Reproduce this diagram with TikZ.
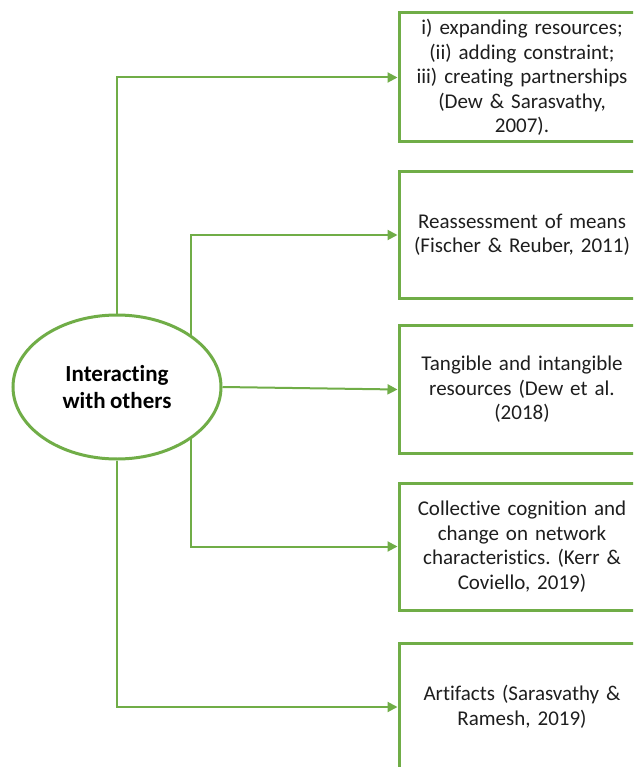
\documentclass[tikz,border=0pt]{standalone}
\usepackage{fontspec}
\setmainfont{Carlito}[Ligatures=NoCommon,WordSpace=0.85]
\usetikzlibrary{arrows.meta,shapes.geometric}
\definecolor{offgreen}{HTML}{70AD47}
\definecolor{txt}{HTML}{1E1E1E}
\frenchspacing
\begin{document}
\begin{tikzpicture}[x=1pt,y=1pt,
  box/.style={draw=offgreen,line width=3pt,minimum width=246pt,inner sep=0pt,
    text width=236pt,align=center,text=txt,font=\fontsize{21}{24.5}\selectfont},
  conn/.style={draw=offgreen,line width=2pt,-{Triangle[length=10pt,width=10pt]}}]
\useasboundingbox (0,0) rectangle (633,-767);
\clip (0,0) rectangle (633,-767);
\fill[white] (0,0) rectangle (633,-767);
\node[ellipse,draw=offgreen,line width=3pt,minimum width=208pt,minimum height=144pt,
  inner sep=0pt,align=center,font=\bfseries\fontsize{23}{27}\selectfont] (ell) at (117,-387)
  {Interacting\\with others};
\node[box,minimum height=129pt] (b1) at (522,-77.5)
  {i) expanding resources;\\(ii) adding constraint;\\iii) creating partnerships\\(Dew \& Sarasvathy,\\2007).};
\node[box,minimum height=126pt] (b2) at (522,-235)
  {Reassessment of means\\(Fischer \& Reuber, 2011)};
\node[box,minimum height=128pt] (b3) at (522,-389.5)
  {Tangible and intangible\\resources (Dew et al.\\(2018)};
\node[box,minimum height=127pt] (b4) at (522,-546.5)
  {Collective cognition and\\change on network\\characteristics. (Kerr \&\\Coviello, 2019)};
\node[box,minimum height=128pt] (b5) at (522,-707)
  {Artifacts (Sarasvathy \&\\Ramesh, 2019)};
\draw[conn] (ell.north) |- (b1.west);
\draw[conn] (ell.35.1) |- (b2.west);
\draw[conn] (ell.east) -- (b3.west);
\draw[conn] (ell.-35.1) |- (b4.west);
\draw[conn] (ell.south) |- (b5.west);
\end{tikzpicture}
\end{document}
